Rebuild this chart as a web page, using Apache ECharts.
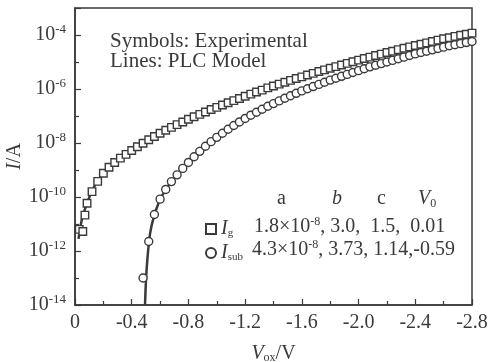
<!DOCTYPE html>
<html>
<head>
<meta charset="utf-8">
<script src="https://cdn.jsdelivr.net/npm/echarts@6/dist/echarts.min.js"></script>
<style>
  html, body { margin: 0; padding: 0; background: #fff; }
  #chart { width: 490px; height: 362px; }
</style>
</head>
<body>
<div id="chart"></div>
<script>
// gate voltage (V), measured points
var vIg = [-0.03, -0.055, -0.07, -0.085, -0.12, -0.16, -0.20, -0.24, -0.28, -0.32, -0.36, -0.40, -0.44, -0.48, -0.52, -0.56, -0.60, -0.64, -0.68, -0.72, -0.76,
  -0.80, -0.84, -0.88, -0.92, -0.96, -1.00, -1.04, -1.08, -1.12, -1.16, -1.20, -1.24, -1.28, -1.32, -1.36, -1.40, -1.44, -1.48, -1.52, -1.56,
  -1.60, -1.64, -1.68, -1.72, -1.76, -1.80, -1.84, -1.88, -1.92, -1.96, -2.00, -2.04, -2.08, -2.12, -2.16, -2.20, -2.24, -2.28, -2.32, -2.36,
  -2.40, -2.44, -2.48, -2.52, -2.56, -2.60, -2.64, -2.68, -2.72, -2.76, -2.80];
// log10(Ig / A)
var logIg = [-11.2, -11.28, -10.67, -10.23, -9.80, -9.42, -9.12, -8.90, -8.72, -8.56, -8.42, -8.28, -8.14, -8.01, -7.88, -7.76, -7.64, -7.53, -7.42, -7.32, -7.22,
  -7.12, -7.03, -6.94, -6.85, -6.76, -6.68, -6.59, -6.51, -6.43, -6.35, -6.27, -6.19, -6.11, -6.04, -5.96, -5.89, -5.82, -5.75, -5.68, -5.61,
  -5.55, -5.48, -5.42, -5.35, -5.29, -5.23, -5.17, -5.11, -5.05, -4.99, -4.93, -4.87, -4.82, -4.76, -4.71, -4.65, -4.60, -4.54, -4.49, -4.44,
  -4.39, -4.34, -4.29, -4.24, -4.19, -4.14, -4.10, -4.05, -4.01, -3.97, -3.93];

var vIsub = [-0.48, -0.52, -0.56, -0.60, -0.64, -0.68, -0.72, -0.76, -0.80, -0.84, -0.88, -0.92, -0.96, -1.00, -1.04, -1.08, -1.12, -1.16, -1.20, -1.24,
  -1.28, -1.32, -1.36, -1.40, -1.44, -1.48, -1.52, -1.56, -1.60, -1.64, -1.68, -1.72, -1.76, -1.80, -1.84, -1.88, -1.92, -1.96, -2.00, -2.04,
  -2.08, -2.12, -2.16, -2.20, -2.24, -2.28, -2.32, -2.36, -2.40, -2.44, -2.48, -2.52, -2.56, -2.60, -2.64, -2.68, -2.72, -2.76, -2.80];
var logIsub = [-13.0, -11.65, -10.65, -10.08, -9.72, -9.43, -9.18, -8.94, -8.72, -8.51, -8.31, -8.12, -7.95, -7.79, -7.64, -7.49, -7.35, -7.22, -7.09, -6.97,
  -6.86, -6.75, -6.64, -6.54, -6.44, -6.34, -6.25, -6.16, -6.07, -5.99, -5.91, -5.83, -5.75, -5.67, -5.60, -5.53, -5.46, -5.39, -5.32, -5.25,
  -5.18, -5.12, -5.06, -5.00, -4.94, -4.88, -4.82, -4.76, -4.70, -4.65, -4.60, -4.55, -4.50, -4.45, -4.40, -4.36, -4.32, -4.28, -4.24];

// PLC model curves
var vModelIg = [-0.025, -0.035, -0.05, -0.08, -0.12, -0.16, -0.20, -0.30, -0.40, -0.50, -0.60, -0.70, -0.80, -0.90, -1.00, -1.20, -1.40, -1.60, -1.80,
  -2.00, -2.20, -2.40, -2.60, -2.80];
var logModelIg = [-11.55, -11.2, -10.8, -10.3, -9.78, -9.40, -9.12, -8.64, -8.28, -7.95, -7.64, -7.37, -7.12, -6.90, -6.68, -6.27, -5.89, -5.55,
  -5.23, -4.93, -4.65, -4.39, -4.14, -3.93];

var vModelIsub = [-0.494, -0.495, -0.502, -0.514, -0.530, -0.553, -0.589, -0.64, -0.70, -0.80, -0.90, -1.00, -1.20, -1.40, -1.60, -1.80, -2.00,
  -2.20, -2.40, -2.60, -2.80];
var logModelIsub = [-14.0, -13.8, -12.95, -12.09, -11.34, -10.79, -10.23, -9.72, -9.30, -8.72, -8.22, -7.79, -7.09, -6.54, -6.07, -5.67, -5.32,
  -5.00, -4.70, -4.45, -4.24];

var tickExps = [-14, -12, -10, -8, -6, -4];

function pairs(xs, ys) {
    var out = [];
    for (var i = 0; i < xs.length; i++) {
        out.push([xs[i], ys[i]]);
    }
    return out;
}

var ink = '#3a3a3a';
var serif = '"Liberation Serif", "Times New Roman", serif';

var chart = echarts.init(document.getElementById('chart'));
var option = {
    backgroundColor: '#fff',
    animation: false,
    grid: {
        left: 75,
        top: 8,
        right: 18,
        bottom: 57,
        outerBoundsMode: 'none',
        containLabel: false,
        show: true,
        borderColor: ink,
        borderWidth: 1.5
    },
    xAxis: {
        type: 'value',
        min: -2.8,
        max: 0,
        interval: 0.4,
        inverse: true,
        name: '{i|V}{sub|ox}/V',
        nameLocation: 'middle',
        nameGap: 39,
        nameMoveOverlap: false,
        nameTextStyle: {
            color: ink,
            fontFamily: serif,
            fontSize: 20,
            rich: {
                i: { fontFamily: serif, fontSize: 20, fontStyle: 'italic', color: ink },
                sub: { fontFamily: serif, fontSize: 12, color: ink, padding: [8, 0, 0, 0] }
            }
        },
        axisLine: { lineStyle: { color: ink, width: 1.5 } },
        axisTick: { inside: true, length: 6, lineStyle: { color: ink, width: 1.2 } },
        minorTick: { show: true, splitNumber: 2, length: 4, lineStyle: { color: ink, width: 1.2 } },
        splitLine: { show: false },
        axisLabel: {
            color: ink,
            fontFamily: serif,
            fontSize: 20,
            margin: 8,
            formatter: function (v) { return v === 0 ? '0' : v.toFixed(1); }
        }
    },
    yAxis: {
        type: 'value',
        min: -14,
        max: -3,
        interval: 2,
        name: '{i|I}/A',
        nameLocation: 'middle',
        nameGap: 50,
        nameMoveOverlap: false,
        nameTextStyle: {
            color: ink,
            fontFamily: serif,
            fontSize: 20,
            rich: {
                i: { fontFamily: serif, fontSize: 20, fontStyle: 'italic', color: ink }
            }
        },
        axisLine: { lineStyle: { color: ink, width: 1.5 } },
        axisTick: { inside: true, length: 6, lineStyle: { color: ink, width: 1.2 } },
        minorTick: { show: true, splitNumber: 2, length: 4, lineStyle: { color: ink, width: 1.2 } },
        splitLine: { show: false },
        axisLabel: {
            color: ink,
            margin: 9,
            formatter: function (v) {
                if (tickExps.indexOf(v) < 0) return '';
                return '{b|10}{s|' + v + '}';
            },
            rich: {
                b: { fontFamily: serif, fontSize: 20, color: ink, lineHeight: 22 },
                s: { fontFamily: serif, fontSize: 13, color: ink, verticalAlign: 'top', padding: [0, 0, 10, 0] }
            }
        }
    },
    legend: {
        data: ['Ig', 'Isub'],
        orient: 'vertical',
        left: 200,
        top: 214,
        itemWidth: 10,
        itemHeight: 10,
        itemGap: 4,
        formatter: function (name) {
            return name === 'Ig' ? '{i|I}{sub|g}' : '{i|I}{sub|sub}';
        },
        textStyle: {
            color: ink,
            rich: {
                i: { fontFamily: serif, fontSize: 20, fontStyle: 'italic', color: ink },
                sub: { fontFamily: serif, fontSize: 11, color: ink, padding: [9, 0, 0, 0] }
            }
        }
    },
    graphic: [
        { type: 'text', left: 110, top: 31, style: { text: 'Symbols: Experimental', font: '21px ' + serif, fill: ink } },
        { type: 'text', left: 110, top: 51, style: { text: 'Lines: PLC Model', font: '21px ' + serif, fill: ink } },
        { type: 'text', left: 277, top: 189, style: { text: 'a', font: '20px ' + serif, fill: ink } },
        { type: 'text', left: 332, top: 189, style: { text: 'b', font: 'italic 20px ' + serif, fill: ink } },
        { type: 'text', left: 377, top: 189, style: { text: 'c', font: '20px ' + serif, fill: ink } },
        {
            type: 'text', left: 418, top: 189,
            style: {
                text: '{v|V}{z|0}',
                rich: {
                    v: { fontFamily: serif, fontSize: 20, fontStyle: 'italic', fill: ink, color: ink },
                    z: { fontFamily: serif, fontSize: 12, fill: ink, color: ink, padding: [9, 0, 0, 0] }
                }
            }
        },
        {
            type: 'text', left: 254, top: 216,
            style: {
                text: '{n|1.8×10}{e|-8}{n|, 3.0,  1.5,  0.01}',
                rich: {
                    n: { fontFamily: serif, fontSize: 20, fill: ink, color: ink },
                    e: { fontFamily: serif, fontSize: 12, fill: ink, color: ink, padding: [0, 0, 9, 0] }
                }
            }
        },
        {
            type: 'text', left: 252, top: 239,
            style: {
                text: '{n|4.3×10}{e|-8}{n|, 3.73, 1.14,-0.59}',
                rich: {
                    n: { fontFamily: serif, fontSize: 20, fill: ink, color: ink },
                    e: { fontFamily: serif, fontSize: 12, fill: ink, color: ink, padding: [0, 0, 9, 0] }
                }
            }
        }
    ],
    series: [
        {
            name: 'Ig model',
            type: 'line',
            data: pairs(vModelIg, logModelIg),
            smooth: 0.3,
            showSymbol: false,
            lineStyle: { color: ink, width: 2.5 },
            z: 2
        },
        {
            name: 'Isub model',
            type: 'line',
            data: pairs(vModelIsub, logModelIsub),
            smooth: 0.3,
            showSymbol: false,
            lineStyle: { color: ink, width: 2.5 },
            z: 2
        },
        {
            name: 'Ig',
            type: 'scatter',
            data: pairs(vIg, logIg),
            symbol: 'rect',
            symbolSize: 7.5,
            itemStyle: { color: '#fff', borderColor: ink, borderWidth: 1.4, opacity: 1 },
            z: 3
        },
        {
            name: 'Isub',
            type: 'scatter',
            data: pairs(vIsub, logIsub),
            symbol: 'circle',
            symbolSize: 8,
            itemStyle: { color: '#fff', borderColor: ink, borderWidth: 1.4, opacity: 1 },
            z: 3
        }
    ]
};
option && chart.setOption(option);
</script>
</body>
</html>
